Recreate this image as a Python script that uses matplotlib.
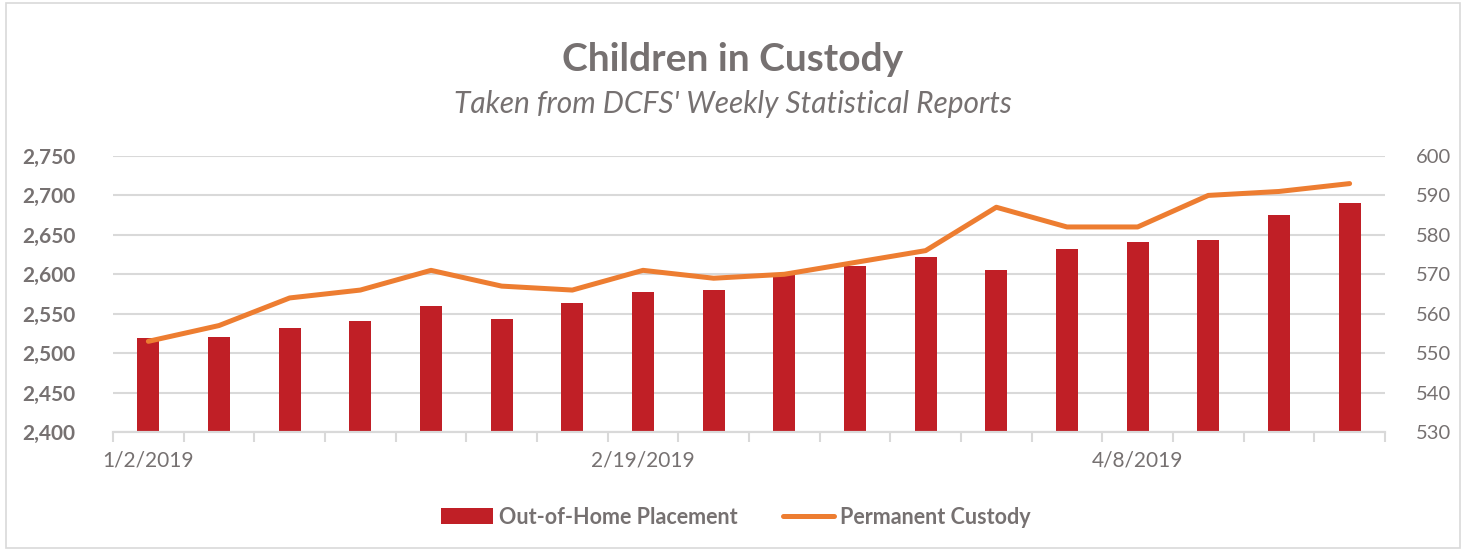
import matplotlib.pyplot as plt
import numpy as np
from matplotlib.lines import Line2D
from matplotlib.patches import Patch, Rectangle
from matplotlib.ticker import FuncFormatter

# weekly report dates (only three are labelled on the axis)
week_labels = ["1/2/2019", "", "", "", "", "", "",
               "2/19/2019", "", "", "", "", "", "",
               "4/8/2019", "", "", ""]
out_of_home = [2519, 2520, 2532, 2541, 2560, 2543, 2563, 2578, 2580,
               2599, 2611, 2622, 2606, 2632, 2641, 2644, 2675, 2690]
permanent = [553, 557, 564, 566, 571, 567, 566, 571, 569,
             570, 573, 576, 587, 582, 582, 590, 591, 593]

c_gray = "#767171"
c_red = "#C01F26"
c_orange = "#ED7D31"
c_grid = "#D9D9D9"

plt.rcParams["font.family"] = ["Lato", "DejaVu Sans"]

fig = plt.figure(figsize=(14.66, 5.5), dpi=100)
fig.patches.append(Rectangle((0.004, 0.004), 0.992, 0.99, transform=fig.transFigure,
                             fill=False, edgecolor=c_grid, linewidth=1.2))

ax = fig.add_axes([0.0771, 0.2145, 0.8676, 0.5019])
ax2 = ax.twinx()

x = np.arange(len(out_of_home))
ax.bar(x, out_of_home, width=0.31, color=c_red, zorder=2)
ax2.plot(x, permanent, color=c_orange, linewidth=3.6, solid_capstyle="round",
         solid_joinstyle="round", zorder=3)

ax.set_xlim(-0.5, len(x) - 0.5)
ax.set_ylim(2400, 2750)
ax.set_yticks(np.arange(2400, 2751, 50))
ax.yaxis.set_major_formatter(FuncFormatter(lambda v, p: f"{int(v):,}"))
ax2.set_ylim(530, 600)
ax2.set_yticks(np.arange(530, 601, 10))

ax.grid(axis="y", color=c_grid, linewidth=1.5, zorder=0)
ax.set_axisbelow(True)

ax.set_xticks(x)
ax.set_xticklabels(week_labels)
ax.set_xticks(np.arange(-0.5, len(x), 1), minor=True)
ax.tick_params(axis="x", which="major", length=0, pad=13, labelsize=15, labelcolor=c_gray)
ax.tick_params(axis="x", which="minor", length=7, color=c_grid, width=1.5)

ax.tick_params(axis="y", length=0, pad=27, labelsize=15, labelcolor=c_gray)
for lab in ax.get_yticklabels():
    lab.set_fontweight("bold")
ax2.tick_params(axis="y", length=0, pad=22, labelsize=14.5, labelcolor=c_gray)

for a in (ax, ax2):
    for side in ("top", "left", "right"):
        a.spines[side].set_visible(False)
    a.spines["bottom"].set_color(c_grid)
    a.spines["bottom"].set_linewidth(1.5)

fig.text(0.5, 0.892, "Children in Custody", ha="center", va="center",
         fontsize=28, fontweight="bold", color=c_gray)
fig.text(0.5, 0.81, "Taken from DCFS' Weekly Statistical Reports", ha="center",
         va="center", fontsize=21.5, fontstyle="italic", color=c_gray)

handles = [Patch(facecolor=c_red, edgecolor="none"),
           Line2D([0], [0], color=c_orange, linewidth=3.6, solid_capstyle="round")]
leg = fig.legend(handles, ["Out-of-Home Placement", "Permanent Custody"],
                 loc="center", bbox_to_anchor=(0.502, 0.06), ncol=2, frameon=False,
                 handlelength=2.4, handleheight=0.75, columnspacing=2.1, handletextpad=0.28,
                 prop={"weight": "bold", "size": 15.5})
for t in leg.get_texts():
    t.set_color(c_gray)

fig.savefig("out.png", dpi=100)
